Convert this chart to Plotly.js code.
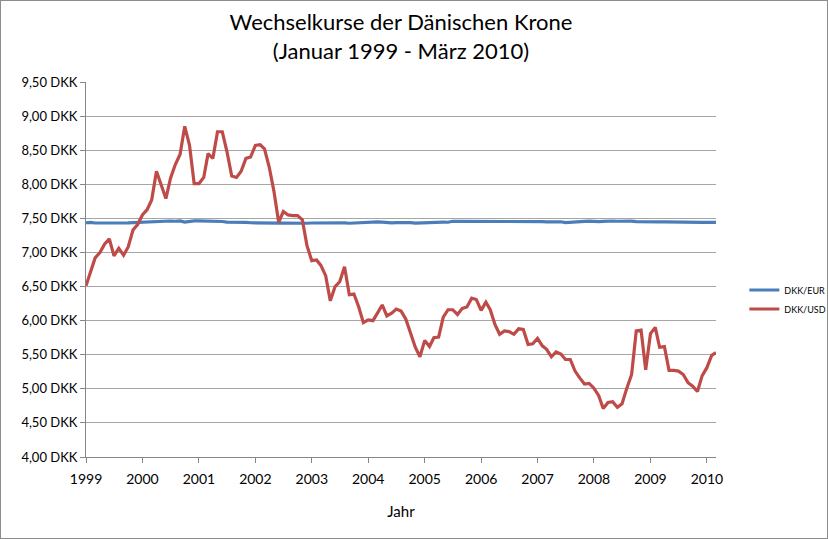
<!DOCTYPE html>
<html>
<head>
<meta charset="utf-8">
<script src="https://cdn.plot.ly/plotly-3.0.1.min.js"></script>
<style>
  body { margin: 0; background: #fff; }
  #chart { width: 828px; height: 539px; box-sizing: border-box; border: 1px solid #8c8c8c; }
</style>
</head>
<body>
<div id="chart"></div>
<script>
// Monatswerte Jan 1999 - Mär 2010
const startYear = 1999;

const dkkEur = [
	7.436, 7.440, 7.432, 7.431, 7.432, 7.431, 7.438, 7.436, 7.433, 7.433, 7.437, 7.441,
	7.444, 7.446, 7.446, 7.451, 7.455, 7.459, 7.461, 7.458, 7.463, 7.445, 7.459, 7.462,
	7.463, 7.463, 7.464, 7.463, 7.461, 7.454, 7.444, 7.445, 7.444, 7.437, 7.441, 7.436,
	7.433, 7.431, 7.432, 7.433, 7.433, 7.430, 7.431, 7.428, 7.427, 7.428, 7.431, 7.428,
	7.432, 7.433, 7.430, 7.425, 7.425, 7.428, 7.433, 7.433, 7.428, 7.431, 7.437, 7.442,
	7.449, 7.452, 7.448, 7.444, 7.435, 7.433, 7.437, 7.439, 7.439, 7.437, 7.431, 7.434,
	7.437, 7.443, 7.447, 7.450, 7.445, 7.443, 7.458, 7.457, 7.457, 7.461, 7.455, 7.453,
	7.460, 7.462, 7.460, 7.463, 7.459, 7.457, 7.459, 7.459, 7.457, 7.455, 7.456, 7.456,
	7.454, 7.452, 7.449, 7.451, 7.453, 7.450, 7.438, 7.440, 7.446, 7.449, 7.457, 7.460,
	7.451, 7.451, 7.455, 7.460, 7.461, 7.458, 7.460, 7.459, 7.460, 7.453, 7.450, 7.451,
	7.451, 7.451, 7.449, 7.448, 7.446, 7.448, 7.446, 7.443, 7.438, 7.439, 7.442, 7.442,
	7.442, 7.443, 7.441
];

const dkkUsd = [
	6.51, 6.73, 6.92, 7.00, 7.12, 7.20, 6.95, 7.06, 6.96, 7.08, 7.33, 7.41,
	7.55, 7.63, 7.77, 8.19, 7.99, 7.79, 8.09, 8.29, 8.44, 8.85, 8.57, 8.01,
	8.01, 8.10, 8.45, 8.38, 8.77, 8.77, 8.48, 8.12, 8.10, 8.19, 8.38, 8.40,
	8.57, 8.58, 8.52, 8.25, 7.90, 7.44, 7.60, 7.55, 7.54, 7.54, 7.48, 7.10,
	6.88, 6.89, 6.81, 6.66, 6.29, 6.50, 6.57, 6.79, 6.38, 6.39, 6.20, 5.97,
	6.01, 6.00, 6.11, 6.23, 6.07, 6.11, 6.17, 6.14, 6.02, 5.81, 5.61, 5.47,
	5.71, 5.62, 5.75, 5.76, 6.05, 6.16, 6.16, 6.09, 6.18, 6.20, 6.33, 6.31,
	6.15, 6.27, 6.16, 5.94, 5.80, 5.85, 5.84, 5.80, 5.88, 5.87, 5.65, 5.66,
	5.74, 5.63, 5.58, 5.47, 5.54, 5.51, 5.43, 5.43, 5.26, 5.16, 5.07, 5.08,
	5.01, 4.90, 4.71, 4.80, 4.81, 4.73, 4.78, 5.01, 5.21, 5.85, 5.86, 5.28,
	5.81, 5.90, 5.61, 5.62, 5.27, 5.27, 5.26, 5.21, 5.09, 5.04, 4.96, 5.19,
	5.31, 5.49, 5.53
];

const yearLabels = ["1999", "2000", "2001", "2002", "2003", "2004", "2005",
	"2006", "2007", "2008", "2009", "2010"];

function monthDates(count) {
	let dates = [];
	for (let i = 0; i < count; i++) {
		let y = startYear + Math.floor(i / 12);
		let m = (i % 12) + 1;
		dates.push(y + "-" + (m < 10 ? "0" + m : m) + "-01");
	}
	return dates;
}

const months = monthDates(dkkUsd.length);
const fontFamily = "Lato, 'Open Sans', sans-serif";

let data = [
	{
		x: months,
		y: dkkEur,
		name: "DKK/EUR",
		type: "scatter",
		mode: "lines",
		line: { color: "#4a7ebb", width: 3.2 }
	},
	{
		x: months,
		y: dkkUsd,
		name: "DKK/USD",
		type: "scatter",
		mode: "lines",
		line: { color: "#be4b48", width: 3.2 }
	}
];

let layout = {
	width: 828,
	height: 539,
	margin: { l: 85, r: 113, t: 81, b: 83, autoexpand: false },
	separators: ",.",
	paper_bgcolor: "rgba(0,0,0,0)",
	plot_bgcolor: "#fff",
	font: { family: fontFamily, color: "#000", size: 13 },
	title: {
		text: "Wechselkurse der Dänischen Krone<br>(Januar 1999 - März 2010)",
		font: { family: fontFamily, size: 22, color: "#000" },
		x: 0.5,
		xref: "paper",
		y: 0.946,
		yanchor: "top"
	},
	xaxis: {
		type: "date",
		range: [months[0], months[months.length - 1]],
		tickmode: "array",
		tickvals: yearLabels.map(y => y + "-01-01"),
		ticktext: yearLabels,
		ticks: "outside",
		ticklen: 5,
		tickcolor: "#868686",
		ticklabelstandoff: 4,
		showgrid: false,
		showline: true,
		linecolor: "#868686",
		linewidth: 1,
		zeroline: false,
		tickfont: { size: 14 },
		title: { text: "Jahr", font: { size: 15 }, standoff: 20 }
	},
	yaxis: {
		range: [4, 9.5],
		dtick: 0.5,
		tick0: 4,
		tickformat: ".2f",
		ticksuffix: " DKK",
		ticks: "outside",
		ticklen: 5,
		tickcolor: "#868686",
		showgrid: true,
		gridcolor: "#a6a6a6",
		gridwidth: 1,
		showline: true,
		linecolor: "#868686",
		zeroline: false,
		tickfont: { size: 13 }
	},
	legend: {
		x: 1.045,
		xanchor: "left",
		y: 0.42,
		yanchor: "middle",
		font: { size: 9 },
		itemwidth: 30,
		tracegroupgap: 0
	},
	showlegend: true
};

Plotly.newPlot("chart", data, layout, { displayModeBar: false, staticPlot: true });
</script>
</body>
</html>
